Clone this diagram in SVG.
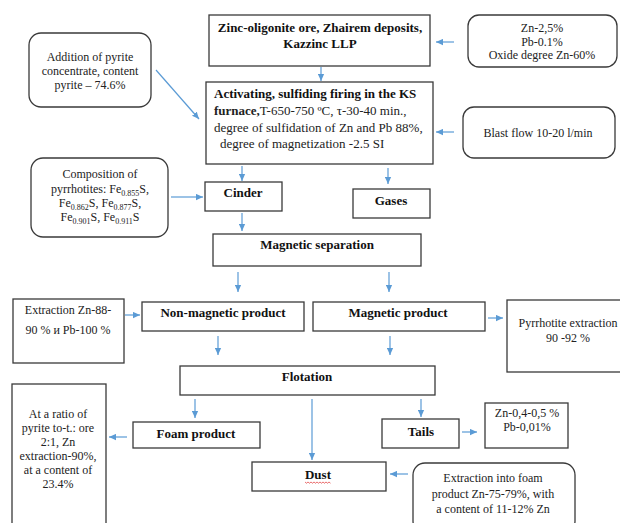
<svg xmlns="http://www.w3.org/2000/svg" width="620" height="523" viewBox="0 0 620 523">
<style>
.box{fill:#fff;stroke:#3a3a3a;stroke-width:1.3}
.t{font-family:'Liberation Serif','Times New Roman','DejaVu Serif',serif;font-size:12px;fill:#222}
.t13{font-family:'Liberation Serif','Times New Roman','DejaVu Serif',serif;font-size:13px;fill:#222}
.b{font-family:'Liberation Serif','Times New Roman','DejaVu Serif',serif;font-size:13px;font-weight:bold;fill:#111}
.m{text-anchor:middle}
.c line{stroke:#5b9bd5;stroke-width:1.2;marker-end:url(#ah)}
.sub{font-size:8px}
</style>
<defs>
<marker id="ah" viewBox="0 0 10 10" refX="10" refY="5" markerWidth="7" markerHeight="7" markerUnits="userSpaceOnUse" orient="auto">
<path d="M0,0.5 L10,5 L0,9.5 z" fill="#5b9bd5"/>
</marker>
</defs>
<rect width="620" height="523" fill="#fff"/>

<g id="ore">
<rect class="box" x="209" y="15" width="221" height="51"/>
<text class="b m" x="320" y="32">Zinc-oligonite ore, Zhairem deposits,</text>
<text class="b m" x="320" y="48">Kazzinc LLP</text>
</g>

<g id="ore-comp">
<rect class="box" x="468" y="15" width="149" height="52" rx="11"/>
<text class="t m" x="542" y="32">Zn-2,5%</text>
<text class="t m" x="542" y="46">Pb-0.1%</text>
<text class="t m" x="542" y="59">Oxide degree Zn-60%</text>
</g>

<g id="pyrite">
<rect class="box" x="29" y="33" width="122" height="74" rx="12"/>
<text class="t m" x="90" y="61">Addition of pyrite</text>
<text class="t m" x="90" y="75">concentrate, content</text>
<text class="t m" x="90" y="89">pyrite – 74.6%</text>
</g>

<g id="activating">
<rect class="box" x="206" y="82" width="227" height="82"/>
<text class="b" x="214" y="98">Activating, sulfiding firing in the KS</text>
<text class="t13" x="214" y="115"><tspan font-weight="bold">furnace,</tspan>T-650-750 ºC, τ-30-40 min.,</text>
<text class="t13" x="214" y="132">degree of sulfidation of Zn and Pb 88%,</text>
<text class="t13" x="220" y="148">degree of magnetization -2.5 SI</text>
</g>

<g id="blast">
<rect class="box" x="463" y="107" width="152" height="51" rx="11"/>
<text class="t m" x="538" y="137">Blast flow 10-20 l/min</text>
</g>

<g id="composition">
<rect class="box" x="31" y="158" width="137" height="79" rx="12"/>
<text class="t m" x="100" y="178">Composition of</text>
<text class="t m" x="100" y="193">pyrrhotites: Fe<tspan class="sub" dy="2.5">0.855</tspan><tspan dy="-2.5">S,</tspan></text>
<text class="t m" x="100" y="207">Fe<tspan class="sub" dy="2.5">0.862</tspan><tspan dy="-2.5">S,  Fe</tspan><tspan class="sub" dy="2.5">0.877</tspan><tspan dy="-2.5">S,</tspan></text>
<text class="t m" x="100" y="221">Fe<tspan class="sub" dy="2.5">0.901</tspan><tspan dy="-2.5">S, Fe</tspan><tspan class="sub" dy="2.5">0.911</tspan><tspan dy="-2.5">S</tspan></text>
</g>

<g id="cinder">
<rect class="box" x="205" y="182" width="77" height="29"/>
<text class="b m" x="243" y="197">Cinder</text>
</g>

<g id="gases">
<rect class="box" x="353" y="189" width="77" height="29"/>
<text class="b m" x="391" y="205">Gases</text>
</g>

<g id="magsep">
<rect class="box" x="213" y="234" width="208" height="32"/>
<text class="b m" x="317" y="249">Magnetic separation</text>
</g>

<g id="zn-extraction">
<rect class="box" x="13" y="299" width="111" height="64"/>
<text class="t m" x="68" y="314">Extraction Zn-88-</text>
<text class="t m" x="68" y="334">90 % и Pb-100 %</text>
</g>

<g id="nonmag">
<rect class="box" x="142" y="302" width="162" height="29"/>
<text class="b m" x="223" y="317">Non-magnetic product</text>
</g>

<g id="mag">
<rect class="box" x="313" y="302" width="172" height="29"/>
<text class="b m" x="398" y="317">Magnetic product</text>
</g>

<g id="pyrrhotite-extraction">
<rect class="box" x="507" y="300" width="118" height="72"/>
<text class="t m" x="568" y="327">Pyrrhotite extraction</text>
<text class="t m" x="568" y="342">90 -92 %</text>
</g>

<g id="flotation">
<rect class="box" x="180" y="366" width="255" height="29"/>
<text class="b m" x="307" y="381">Flotation</text>
</g>

<g id="ratio">
<rect class="box" x="12" y="384" width="94" height="145"/>
<text class="t m" x="58" y="418">At a ratio of</text>
<text class="t m" x="58" y="432">pyrite to-t.: ore</text>
<text class="t m" x="58" y="446">2:1, Zn</text>
<text class="t m" x="58" y="460">extraction-90%,</text>
<text class="t m" x="58" y="474">at a content of</text>
<text class="t m" x="58" y="488">23.4%</text>
</g>

<g id="foam">
<rect class="box" x="133" y="422" width="127" height="26"/>
<text class="b m" x="196" y="438">Foam product</text>
</g>

<g id="tails">
<rect class="box" x="382" y="419" width="77" height="29"/>
<text class="b m" x="421" y="436">Tails</text>
</g>

<g id="tails-comp">
<rect class="box" x="485" y="403" width="83" height="45"/>
<text class="t m" x="527" y="417">Zn-0,4-0,5 %</text>
<text class="t m" x="527" y="431">Pb-0,01%</text>
</g>

<g id="dust">
<rect class="box" x="252" y="462" width="134" height="29"/>
<text class="b m" x="318" y="479">Dust</text>
<path d="M305,482 l1.5,1.2 l1.5,-1.2 l1.5,1.2 l1.5,-1.2 l1.5,1.2 l1.5,-1.2 l1.5,1.2 l1.5,-1.2 l1.5,1.2 l1.5,-1.2 l1.5,1.2 l1.5,-1.2 l1.5,1.2 l1.5,-1.2 l1.5,1.2 l1.5,-1.2 l1.5,1.2" fill="none" stroke="#e03030" stroke-width="0.7"/>
</g>

<g id="foam-extraction">
<rect class="box" x="413" y="463" width="162" height="70" rx="12"/>
<text class="t m" x="493" y="482">Extraction into foam</text>
<text class="t m" x="493" y="498">product Zn-75-79%, with</text>
<text class="t m" x="493" y="513">a content of 11-12% Zn</text>
</g>

<g id="connectors" class="c">
<line x1="321" y1="67" x2="321" y2="81"/>
<line x1="454" y1="42" x2="436" y2="42"/>
<line x1="156" y1="70" x2="199" y2="119"/>
<line x1="454" y1="132" x2="436" y2="132"/>
<line x1="242" y1="166" x2="242" y2="181"/>
<line x1="388" y1="168" x2="388" y2="184"/>
<line x1="171" y1="197" x2="203" y2="197"/>
<line x1="242" y1="213" x2="242" y2="231"/>
<line x1="238" y1="272" x2="238" y2="292"/>
<line x1="389" y1="272" x2="389" y2="292"/>
<line x1="125" y1="315" x2="140" y2="315"/>
<line x1="488" y1="318" x2="503" y2="318"/>
<line x1="218" y1="336" x2="218" y2="355"/>
<line x1="390" y1="336" x2="390" y2="355"/>
<line x1="195" y1="399" x2="195" y2="418"/>
<line x1="312" y1="399" x2="312" y2="460"/>
<line x1="421" y1="399" x2="421" y2="417"/>
<line x1="127" y1="437" x2="109" y2="437"/>
<line x1="462" y1="432" x2="477" y2="432"/>
<line x1="408" y1="474" x2="390" y2="474"/>
</g>
</svg>
